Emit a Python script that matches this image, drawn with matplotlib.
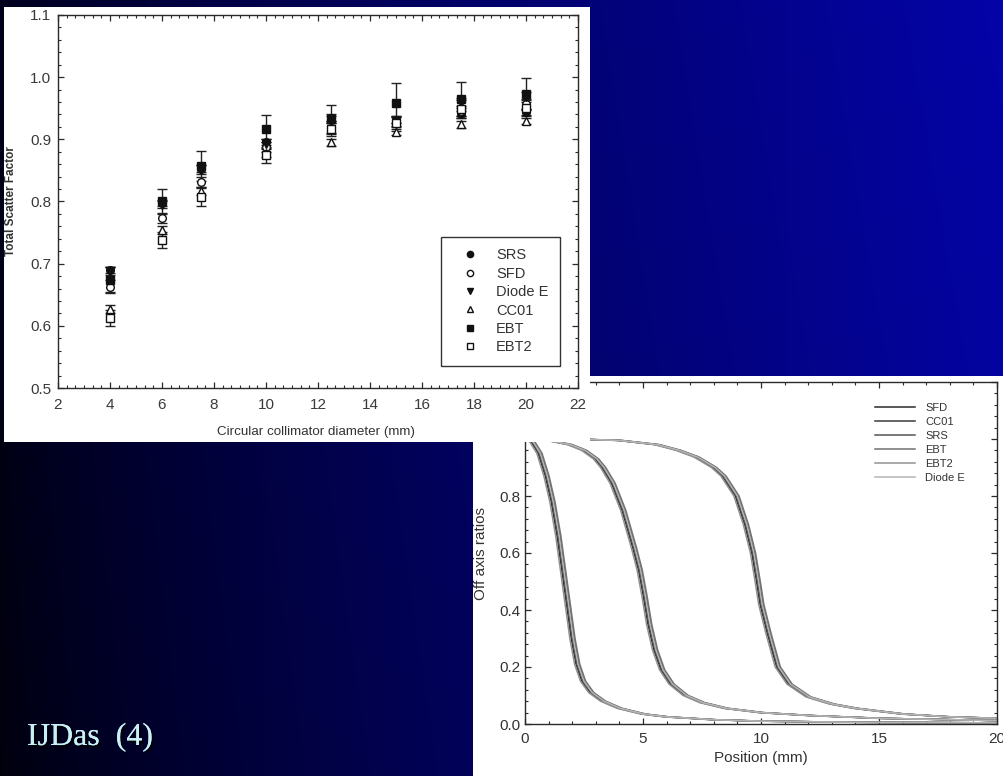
import numpy as np
import matplotlib
matplotlib.use("Agg")
import matplotlib.pyplot as plt
from matplotlib.ticker import MultipleLocator, AutoMinorLocator, FuncFormatter, FormatStrFormatter
import matplotlib.patheffects as pe

plt.rcParams["font.family"] = ["Liberation Sans", "DejaVu Sans"]

# ---- total scatter factor vs circular collimator diameter
diameters = [4, 6, 7.5, 10, 12.5, 15, 17.5, 20]
tsf_labels = ["SRS", "SFD", "Diode E", "CC01", "EBT", "EBT2"]
tsf_srs = [0.690, 0.798, 0.853, 0.896, 0.935, 0.931, 0.940, 0.944]
tsf_sfd = [0.663, 0.773, 0.832, 0.888, 0.918, 0.928, 0.946, 0.957]
tsf_diode = [0.688, 0.795, 0.851, 0.893, 0.932, 0.929, 0.958, 0.968]
tsf_cc01 = [0.627, 0.754, 0.817, 0.878, 0.895, 0.912, 0.924, 0.930]
tsf_ebt = [0.674, 0.800, 0.857, 0.917, 0.932, 0.959, 0.965, 0.973]
tsf_ebt2 = [0.613, 0.738, 0.807, 0.875, 0.917, 0.926, 0.949, 0.950]
err_srs = [0.005, 0.005, 0.005, 0.005, 0.005, 0.005, 0.005, 0.005]
err_sfd = [0.010, 0.008, 0.008, 0.008, 0.008, 0.008, 0.008, 0.008]
err_diode = [0.006, 0.006, 0.007, 0.007, 0.006, 0.008, 0.008, 0.008]
err_cc01 = [0.006, 0.006, 0.006, 0.006, 0.005, 0.005, 0.005, 0.005]
err_ebt = [0.020, 0.020, 0.024, 0.022, 0.024, 0.032, 0.028, 0.026]
err_ebt2 = [0.013, 0.013, 0.015, 0.013, 0.012, 0.012, 0.014, 0.013]

# ---- off axis ratio profiles (three collimators)
prof_a_x = [0, 0.3, 0.6, 0.9, 1.15, 1.4, 1.6, 1.8, 2.0, 2.2, 2.45, 2.8, 3.3, 4.0, 5.0, 6.0, 8.0, 10.0, 14.0, 20.0]
prof_a_y = [1.0, 0.99, 0.95, 0.87, 0.78, 0.66, 0.54, 0.42, 0.30, 0.21, 0.15, 0.11, 0.08, 0.055, 0.035, 0.025, 0.015, 0.010, 0.006, 0.004]
prof_b_x = [0, 1, 1.9, 2.5, 3.0, 3.3, 3.7, 4.15, 4.6, 4.85, 5.05, 5.25, 5.5, 5.8, 6.2, 6.8, 7.5, 8.5, 10, 12, 15, 20]
prof_b_y = [1.0, 0.995, 0.98, 0.96, 0.93, 0.90, 0.845, 0.75, 0.62, 0.54, 0.45, 0.35, 0.26, 0.19, 0.14, 0.10, 0.075, 0.055, 0.04, 0.03, 0.02, 0.012]
prof_c_x = [0, 2, 4, 5.6, 6.5, 7.25, 8.0, 8.4, 8.95, 9.35, 9.65, 9.85, 10.0, 10.3, 10.7, 11.2, 12, 13, 14, 15, 16, 18, 20]
prof_c_y = [1.0, 1.0, 0.995, 0.98, 0.96, 0.937, 0.90, 0.87, 0.80, 0.70, 0.60, 0.50, 0.42, 0.32, 0.20, 0.14, 0.095, 0.07, 0.055, 0.045, 0.035, 0.025, 0.02]
oar_labels = ["SFD", "CC01", "SRS", "EBT", "EBT2", "Diode E"]
oar_shift_mm = [-0.04, 0.08, 0.0, 0.12, -0.10, 0.05]
oar_colors = ["#2a2a2a", "#3c3c3c", "#555555", "#727272", "#929292", "#b4b4b4"]

W, H = 1004, 776
fig = plt.figure(figsize=(W / 100, H / 100), dpi=100)

# slide background gradient
xf = np.linspace(0, 1, W)[None, :]
yf = np.linspace(0, 1, H)[:, None]
blue = 0.05 + 0.55 * xf ** 0.8 + 0.06 * (1 - yf)
grad = np.dstack([0.015 * xf + 0 * yf, 0.015 * xf + 0 * yf, np.clip(blue, 0, 1)])
bg = fig.add_axes([0, 0, 1, 1], zorder=0)
bg.imshow(grad, aspect="auto", extent=[0, 1, 0, 1])
bg.axis("off")


def white_panel(rect, z):
    p = fig.add_axes(rect, zorder=z)
    p.set_facecolor("white")
    p.set_xticks([])
    p.set_yticks([])
    for s in p.spines.values():
        s.set_visible(False)
    return p


def style_axes(ax, label_size, color):
    for s in ax.spines.values():
        s.set_color("#2a2a2a")
        s.set_linewidth(1.0)
    ax.tick_params(which="both", direction="in", top=True, right=True,
                   colors="#2a2a2a", labelcolor=color, labelsize=label_size)
    ax.tick_params(which="major", length=4.5, width=0.9)
    ax.tick_params(which="minor", length=2.5, width=0.8)


# ---- bottom-right panel: profiles
white_panel([473 / W, 0, (W - 473) / W, (H - 376) / H], 1)
axb = fig.add_axes([525 / W, (H - 724) / H, 472 / W, 342 / H], zorder=2)
for lab, sh, col in zip(oar_labels, oar_shift_mm, oar_colors):
    for px, py in [(prof_a_x, prof_a_y), (prof_b_x, prof_b_y), (prof_c_x, prof_c_y)]:
        axb.plot(np.array(px) + sh, py, color=col, lw=1.1, label=lab if px is prof_a_x else None)
axb.set_xlim(0, 20)
axb.set_ylim(0, 1.2)
axb.xaxis.set_major_locator(MultipleLocator(5))
axb.xaxis.set_minor_locator(AutoMinorLocator(5))
axb.yaxis.set_major_locator(MultipleLocator(0.2))
axb.yaxis.set_minor_locator(AutoMinorLocator(5))
axb.yaxis.set_major_formatter(FuncFormatter(lambda v, p: f"{v:.1f}" if v < 0.9 else ""))
style_axes(axb, 11, "#333333")
axb.tick_params(axis="x", pad=6)
axb.tick_params(axis="y", pad=3)
axb.legend(loc="upper left", bbox_to_anchor=(0.7415, 0.94), borderaxespad=0, borderpad=0,
           frameon=False, fontsize=8, labelspacing=0.37, handlelength=3.6,
           handletextpad=0.9, labelcolor="#333333")
fig.text(761 / W, 1 - 758 / H, "Position (mm)", ha="center", va="center",
         fontsize=11, color="#333333", zorder=10)
fig.text(481 / W, 1 - 553 / H, "Off axis ratios", ha="center", va="center",
         rotation=90, fontsize=11, color="#333333", zorder=10)

# ---- top-left panel: total scatter factor
white_panel([4 / W, (H - 442) / H, 586 / W, 435 / H], 3)
axt = fig.add_axes([58 / W, (H - 388) / H, 520 / W, 373 / H], zorder=4)
series = [
    (tsf_srs, err_srs, "o", "#111111"),
    (tsf_sfd, err_sfd, "o", "white"),
    (tsf_diode, err_diode, "v", "#111111"),
    (tsf_cc01, err_cc01, "^", "white"),
    (tsf_ebt, err_ebt, "s", "#111111"),
    (tsf_ebt2, err_ebt2, "s", "white"),
]
handles = []
for (vals, err, m, fc), lab in zip(series, tsf_labels):
    axt.errorbar(diameters, vals, yerr=err, fmt=m, ms=5.5, mfc=fc, mec="#111111",
                 mew=1.0, ecolor="#222222", elinewidth=1.0, capsize=3.8, capthick=1.0)
    h, = axt.plot([], [], ls="none", marker=m, ms=4.5, mfc=fc, mec="#111111", mew=1.0)
    handles.append(h)
axt.set_xlim(2, 22)
axt.set_ylim(0.5, 1.1)
axt.xaxis.set_major_locator(MultipleLocator(2))
axt.xaxis.set_minor_locator(AutoMinorLocator(6))
axt.yaxis.set_major_locator(MultipleLocator(0.1))
axt.yaxis.set_minor_locator(AutoMinorLocator(5))
axt.yaxis.set_major_formatter(FormatStrFormatter("%.1f"))
style_axes(axt, 11, "#3a3a3a")
axt.tick_params(axis="x", pad=7.5)
axt.tick_params(axis="y", pad=5)
leg = axt.legend(handles, tsf_labels, loc="lower left", bbox_to_anchor=(0.737, 0.059),
                 borderaxespad=0, borderpad=0.8, fontsize=10.5, labelspacing=0.3,
                 handlelength=2.3, handletextpad=0.65, fancybox=False, framealpha=1,
                 edgecolor="#333333", labelcolor="#333333")
leg.get_frame().set_linewidth(1.0)
fig.text(316 / W, 1 - 432 / H, "Circular collimator diameter (mm)", ha="center",
         va="center", fontsize=9.6, color="#333333", zorder=10)
fig.text(11 / W, 1 - 201 / H, "Total Scatter Factor", ha="center", va="center",
         rotation=90, fontsize=8.5, fontweight="bold", color="#333333", zorder=10)

# slide caption
fig.text(27 / W, (H - 745) / H, "IJDas  (4)", ha="left", va="baseline",
         fontsize=23, family="Liberation Serif", color="#c8f0f8", zorder=10,
         path_effects=[pe.withSimplePatchShadow(offset=(1.5, -1.5), shadow_rgbFace="black", alpha=0.9),
                       pe.Normal()])

fig.savefig("out.png", dpi=100)
